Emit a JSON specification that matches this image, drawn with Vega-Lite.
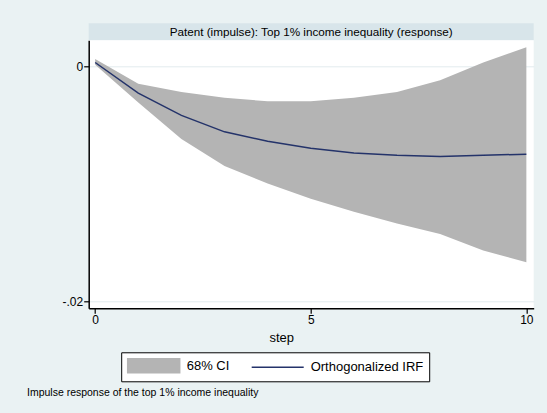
{
  "$schema": "https://vega.github.io/schema/vega-lite/v6.json",
  "background": "#eaf2f3",
  "padding": {"left": 26.7, "right": 13.5, "top": 23.3, "bottom": 17},
  "bounds": "flush",
  "spacing": 0,
  "title": {
    "text": "Impulse response of the top 1% income inequality",
    "orient": "bottom",
    "anchor": "start",
    "frame": "bounds",
    "dx": -35,
    "offset": 6,
    "font": "Liberation Sans",
    "fontSize": 10.5,
    "fontWeight": "normal",
    "color": "#000000"
  },
  "config": {
    "font": "Liberation Sans",
    "axis": {"labelFont": "Liberation Sans", "titleFont": "Liberation Sans"}
  },
  "datasets": {
    "irf": [
      {"step": 0, "irf": 0.0003, "lo": 0.0001, "hi": 0.0006},
      {"step": 1, "irf": -0.0023, "lo": -0.0031, "hi": -0.0015},
      {"step": 2, "irf": -0.0042, "lo": -0.0062, "hi": -0.0022},
      {"step": 3, "irf": -0.0056, "lo": -0.0085, "hi": -0.0027},
      {"step": 4, "irf": -0.0064, "lo": -0.0100, "hi": -0.0030},
      {"step": 5, "irf": -0.0070, "lo": -0.0113, "hi": -0.0030},
      {"step": 6, "irf": -0.0074, "lo": -0.0124, "hi": -0.0027},
      {"step": 7, "irf": -0.0076, "lo": -0.0134, "hi": -0.0022},
      {"step": 8, "irf": -0.0077, "lo": -0.0143, "hi": -0.0012},
      {"step": 9, "irf": -0.0076, "lo": -0.0157, "hi": 0.0003},
      {"step": 10, "irf": -0.0075, "lo": -0.0167, "hi": 0.0016}
    ],
    "strip": [
      {"t": "Patent (impulse): Top 1% income inequality (response)"}
    ]
  },
  "vconcat": [
    {
      "width": 445,
      "height": 17,
      "view": {"fill": "#d8e5ea", "stroke": null},
      "data": {"name": "strip"},
      "mark": {
        "type": "text",
        "font": "Liberation Sans",
        "fontSize": 11.7,
        "color": "#000000",
        "baseline": "middle",
        "align": "center"
      },
      "encoding": {"text": {"field": "t"}}
    },
    {
      "width": 445,
      "height": 268,
      "view": {"fill": "#ffffff", "stroke": null},
      "data": {"name": "irf"},
      "encoding": {
        "x": {
          "field": "step",
          "type": "quantitative",
          "scale": {"domain": [-0.15, 10.17], "nice": false, "zero": false},
          "axis": {
            "values": [0, 5, 10],
            "title": "step",
            "titleX": 192.5,
            "titleAlign": "center",
            "titleFontSize": 13,
            "titleFontWeight": "normal",
            "titleColor": "#000000",
            "titlePadding": 6,
            "labelFontSize": 12,
            "labelColor": "#000000",
            "labelPadding": 1,
            "labelFlush": false,
            "domainColor": "#000000",
            "domainWidth": 1.5,
            "tickColor": "#000000",
            "tickWidth": 1.2,
            "tickSize": 5,
            "grid": false
          }
        }
      },
      "layer": [
        {
          "mark": {"type": "area", "opacity": 1},
          "encoding": {
            "y": {
              "field": "lo",
              "type": "quantitative",
              "scale": {"domain": [-0.02062, 0.00219], "nice": false, "zero": false},
              "axis": {
                "values": [-0.02, 0],
                "labelExpr": "datum.value == 0 ? '0' : '-.02'",
                "title": null,
                "labelFontSize": 12,
                "labelColor": "#000000",
                "labelPadding": 1,
                "labelFlush": false,
                "domainColor": "#000000",
                "domainWidth": 1.5,
                "tickColor": "#000000",
                "tickWidth": 1.2,
                "tickSize": 5,
                "grid": true,
                "gridColor": "#e2ebee",
                "gridWidth": 1
              }
            },
            "y2": {"field": "hi"},
            "color": {
              "datum": "68% CI",
              "type": "nominal",
              "scale": {
                "domain": ["68% CI", "Orthogonalized IRF"],
                "range": ["#b4b4b4", "#24336a"]
              },
              "legend": {
                "title": null,
                "orient": "none",
                "legendX": 32.5,
                "legendY": 329,
                "direction": "horizontal",
                "fillColor": "#ffffff",
                "strokeColor": "#000000",
                "padding": 5.5,
                "symbolSize": 196,
                "symbolType": {"expr": "datum.value == '68% CI' ? 'M-1,-1H6.43V1H-1Z' : 'M-1,0H6.43'"},
                "symbolFillColor": {"expr": "datum.value == '68% CI' ? '#b4b4b4' : 'transparent'"},
                "symbolStrokeColor": {"expr": "datum.value == '68% CI' ? '#a8a8a8' : '#24336a'"},
                "symbolStrokeWidth": 1.5,
                "symbolOpacity": 1,
                "labelOffset": 44,
                "columnPadding": 19,
                "labelFont": "Liberation Sans",
                "labelFontSize": 13,
                "labelColor": "#000000"
              }
            }
          }
        },
        {
          "mark": {"type": "line", "strokeWidth": 1.5},
          "encoding": {
            "y": {"field": "irf", "type": "quantitative"},
            "color": {"datum": "Orthogonalized IRF", "type": "nominal"}
          }
        }
      ]
    }
  ]
}
